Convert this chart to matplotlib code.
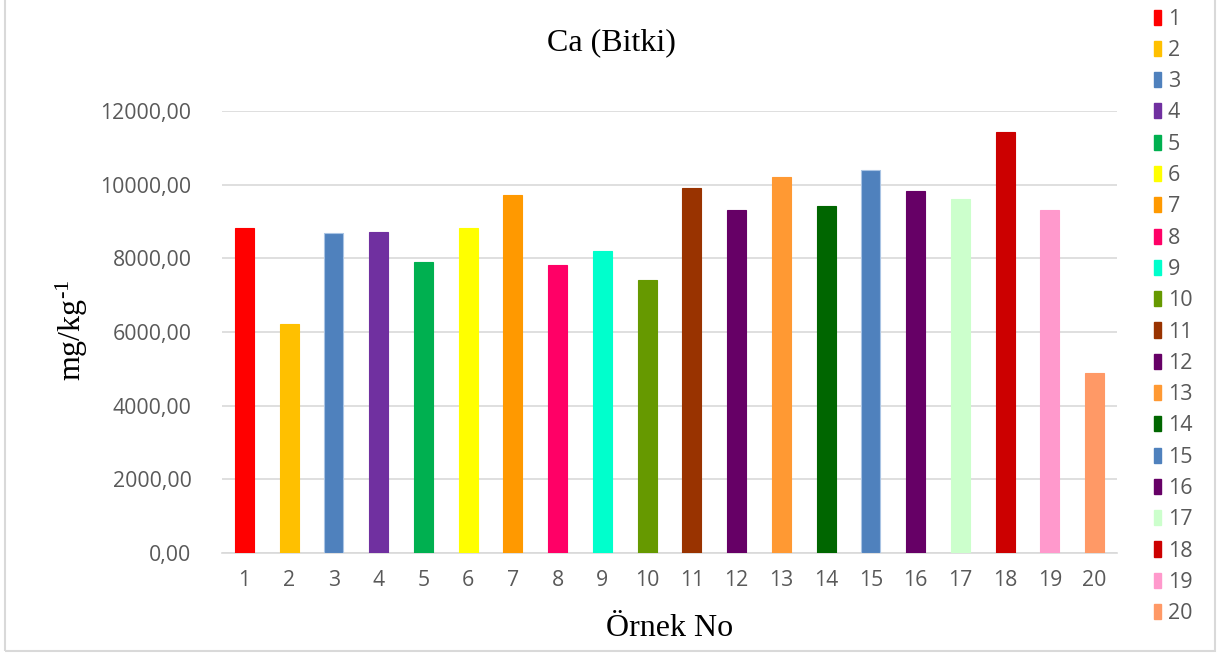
import matplotlib
matplotlib.use("Agg")
import matplotlib.pyplot as plt
from matplotlib.patches import Patch, Rectangle

samples = [str(i) for i in range(1, 21)]
values = [8820, 6220, 8700, 8710, 7900, 8820, 9720, 7820, 8200, 7410,
          9900, 9310, 10200, 9420, 10400, 9830, 9600, 11420, 9310, 4890]
colors = ["#FF0000", "#FFC000", "#4F81BD", "#7030A0", "#00B050", "#FFFF00",
          "#FF9900", "#FF0066", "#00FFCC", "#669900", "#993300", "#660066",
          "#FF9933", "#006600", "#4F81BD", "#660066", "#CCFFCC", "#CC0000",
          "#FF99CC", "#FF9966"]
yticks = [0, 2000, 4000, 6000, 8000, 10000, 12000]
ytick_labels = ["0,00", "2000,00", "4000,00", "6000,00", "8000,00", "10000,00", "12000,00"]

plt.rcParams['mathtext.default'] = 'regular'
fig = plt.figure(figsize=(12.18, 6.53), dpi=100)
ax = fig.add_axes([222/1218, 1-553/653, (1117-222)/1218, (553-111)/653])

x = list(range(len(samples)))
edges = ["#A9C4E4" if c == "#4F81BD" else c for c in colors]
bars = ax.bar(x, values, width=0.42, color=colors, edgecolor=edges, linewidth=0.8, zorder=3)

ax.set_xlim(-0.5, len(samples) - 0.5)
ax.set_ylim(0, 12000)
ax.set_yticks(yticks)
ax.set_yticklabels(ytick_labels)
ax.set_xticks(x)
ax.set_xticklabels(samples)
ax.grid(axis='y', color='#D9D9D9', linewidth=1.2, zorder=0)
for s in ['top', 'right', 'left']:
    ax.spines[s].set_visible(False)
ax.spines['bottom'].set_color('#D9D9D9')
ax.spines['bottom'].set_linewidth(1.2)
ax.tick_params(axis='both', length=0, colors='#595959', labelsize=15.3)
ax.tick_params(axis='y', pad=22)
ax.tick_params(axis='x', pad=12)
for lbl in ax.get_xticklabels() + ax.get_yticklabels():
    lbl.set_family('Open Sans')

fig.text(611/1218, 1-43/653, "Ca (Bitki)", family='Liberation Serif', fontsize=23,
         ha='center', va='center', color='black')
fig.text(670/1218, 1-628/653, "Örnek No", family='Liberation Serif', fontsize=23,
         ha='center', va='center', color='black')
fig.text(72/1218, 1-330/653, "mg/kg$^{\u20101}$", family='Liberation Serif',
         fontsize=23, ha='center', va='center', rotation=90, color='black')

handles = [Patch(facecolor=c, edgecolor=c) for c in colors]
leg = fig.legend(handles, samples, loc='upper left', bbox_to_anchor=(1145/1218, 1-0/653),
                 frameon=False, prop={'family': 'Open Sans', 'size': 15.5},
                 handlelength=0.35, handleheight=0.7, handletextpad=0.3,
                 labelspacing=0.478, borderaxespad=0)
for t in leg.get_texts():
    t.set_color('#595959')

fig.patches.append(Rectangle((5/1218, 2/653), 1210/1218, 660/653, transform=fig.transFigure,
                             fill=False, edgecolor='#D9D9D9', linewidth=1.5))

fig.savefig("out.png", dpi=100)
